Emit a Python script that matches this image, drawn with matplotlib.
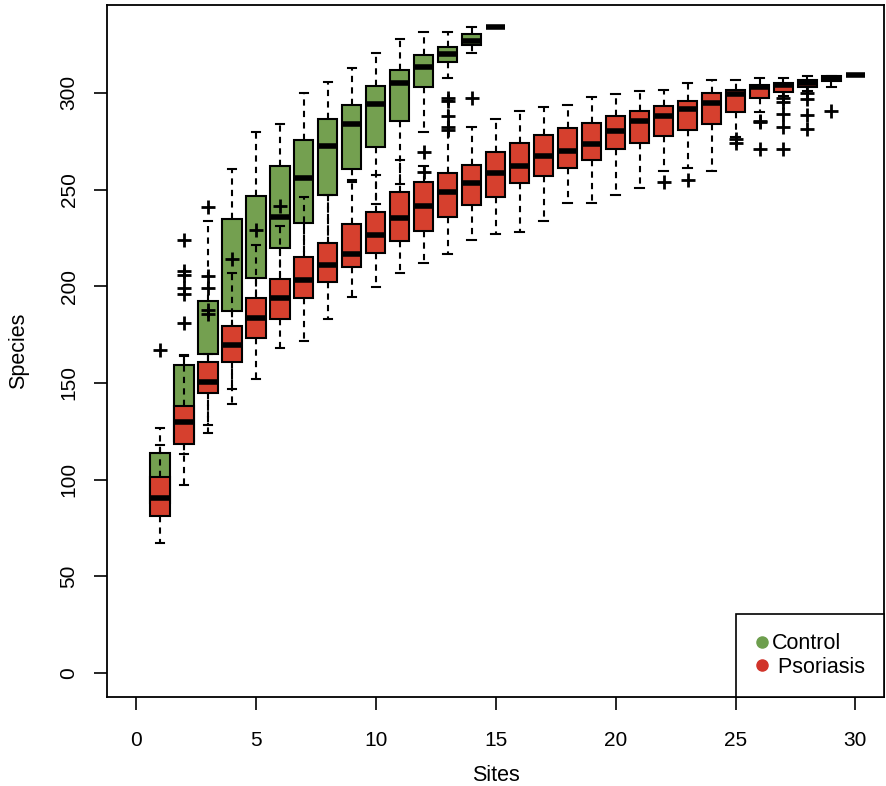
import numpy as np
import matplotlib
matplotlib.use('Agg')
import matplotlib.pyplot as plt
from matplotlib.lines import Line2D

plt.rcParams['font.family'] = ['Liberation Sans', 'DejaVu Sans']

nan = np.nan

# Control (green), sites 1..15
ctrl_sites = list(range(1, 16))
ctrl_lo  = [84, 113, 128, 147, 190, 200, 212, 218, 254.7, 242.5, 252.9, 280, 307.5, 320.8, 334]
ctrl_q1  = [88, 120, 165, 187, 204.4, 220, 232.8, 247.2, 260.5, 271.8, 285.2, 303, 315.8, 324.7, 334]
ctrl_med = [97, 130, nan, nan, nan, 236, 256.1, 272.5, 284.1, 294, 304.9, 313.5, 320.2, 327, 334]
ctrl_q3  = [113.8, 159.3, 192.5, 234.7, 246.6, 262.3, 275.6, 286.6, 293.5, 303.7, 311.6, 319.5, 323.6, 330.5, 334]
ctrl_hi  = [126.7, 164.5, 233.5, 260.6, 279.7, 283.7, 299.7, 305.6, 312.6, 320.7, 327.6, 331.6, 331.6, 333.8, 334]
ctrl_out = [[167], [224, 208, 206, 199, 196, 181], [241, 205.5, 199], [], [], [], [], [], [], [], [],
            [269.5, 259.2], [297.5, 296, 288, 282.5, 281], [297.2], []]

# Psoriasis (red), sites 1..30
ps_sites = list(range(1, 31))
ps_lo  = [67, 97, 124, 139, 151.8, 168, 171.7, 183, 194.3, 199.4, 207, 211.8, 216.6, 223.9, 226.8,
          227.9, 233.9, 243.2, 243.2, 247, 251, 259.7, 260.9, 259.7, 277, 290, 298.5, 301, 302.8, 309]
ps_q1  = [81, 118.3, 144.8, 160.6, 173.4, 183, 193.7, 202.3, 209.7, 217, 223.5, 228.4, 236, 242.2, 246.3,
          253.6, 257, 260.9, 265.3, 270.8, 273.9, 277.7, 280.8, 283.9, 290.2, 297.2, 300.2, 302.8, 306.1, 309]
ps_med = [90.7, 130, 150.6, 169.6, 183.7, 193.8, 203.2, 210.8, 216.8, 226.5, 235.2, 241.6, 248.6, 253.6, 258.8,
          262.4, 267.3, 270.1, 273.5, 280.4, 285.6, 288, 291.5, 294.9, 299.5, 302.8, 304, 305.2, 307.5, 309]
ps_q3  = [101.2, 138.2, 160.6, 179.6, 193.7, 203.5, 215, 222.2, 232, 238.5, 248.5, 254, 258.7, 262.7, 269.5,
          273.9, 278.2, 281.6, 284.6, 288, 290.6, 293.2, 296, 299.7, 301.4, 304, 305.2, 306.6, 308.5, 309]
ps_hi  = [117.7, 164, 165, 207, 221.3, 231.3, 246, 247, 254, 257.7, 265.3, 262, 296, 282.5, 286.7,
          290.7, 292.5, 293.7, 297.6, 299.4, 300.9, 301.6, 304.9, 306.6, 306.6, 307.5, 307.5, 308.7, 308.7, 309]
ps_out = [[], [], [185.5, 187.5], [214], [229], [241.3], [], [], [], [], [], [], [], [], [],
          [], [], [], [], [], [], [254], [254.9], [], [276, 274], [285.6, 285, 270.8],
          [297.2, 295.5, 289.3, 282.5, 270.8], [299.7, 296.6, 288.5, 281.3], [290.7], []]

green = '#74a050'
red = '#d6402e'


def make_stats(lo, q1, med, q3, hi, out):
    stats = []
    for i in range(len(lo)):
        stats.append(dict(whislo=lo[i], q1=q1[i], med=med[i], q3=q3[i], whishi=hi[i], fliers=out[i]))
    return stats


def draw(ax, stats, pos, color, z):
    ax.bxp(stats, positions=pos, widths=0.8, capwidths=0.36, patch_artist=True,
           manage_ticks=False, zorder=z,
           boxprops=dict(facecolor=color, edgecolor='black', linewidth=1.5),
           whiskerprops=dict(color='black', linewidth=1.5, linestyle=(0, (3, 2.5))),
           capprops=dict(color='black', linewidth=1.5),
           medianprops=dict(color='black', linewidth=4, solid_capstyle='butt'),
           flierprops=dict(marker='+', markersize=10, markeredgewidth=2,
                           markeredgecolor='black', linestyle='none'))


fig = plt.figure(figsize=[8.86, 7.86], dpi=100)
ax = fig.add_axes([0.1208, 0.1132, 0.8769, 0.8804])

draw(ax, make_stats(ctrl_lo, ctrl_q1, ctrl_med, ctrl_q3, ctrl_hi, ctrl_out), ctrl_sites, green, 2)
draw(ax, make_stats(ps_lo, ps_q1, ps_med, ps_q3, ps_hi, ps_out), ps_sites, red, 3)

ax.set_xlim(-1.21, 31.19)
ax.set_ylim(-12.4, 345.4)
ax.set_xticks(np.arange(0, 31, 5))
ax.set_yticks(np.arange(0, 301, 50))
ax.tick_params(axis='both', labelsize=15, length=9.5, width=1.2, color='black')
ax.tick_params(axis='x', pad=15)
ax.tick_params(axis='y', pad=11, labelrotation=90)
for lab in ax.get_yticklabels():
    lab.set_va('center')
for sp in ax.spines.values():
    sp.set_linewidth(1.3)

ax.set_xlabel('Sites', fontsize=15.5, labelpad=11)
ax.set_ylabel('Species', fontsize=15.5, labelpad=22)

handles = [Line2D([], [], marker='o', linestyle='none', markersize=8, markerfacecolor='#6d9e4d',
                  markeredgecolor='#6d9e4d', label='Control'),
           Line2D([], [], marker='o', linestyle='none', markersize=8, markerfacecolor='#d1332a',
                  markeredgecolor='#d1332a', label=' Psoriasis')]
leg = ax.legend(handles=handles, loc='lower right', borderaxespad=0, fancybox=False,
                edgecolor='black', framealpha=1, fontsize=15.5, handlelength=0.6,
                handletextpad=0.15, borderpad=0.9, labelspacing=0.1)
leg.get_frame().set_linewidth(1.2)

fig.savefig('out.png', dpi=100)
